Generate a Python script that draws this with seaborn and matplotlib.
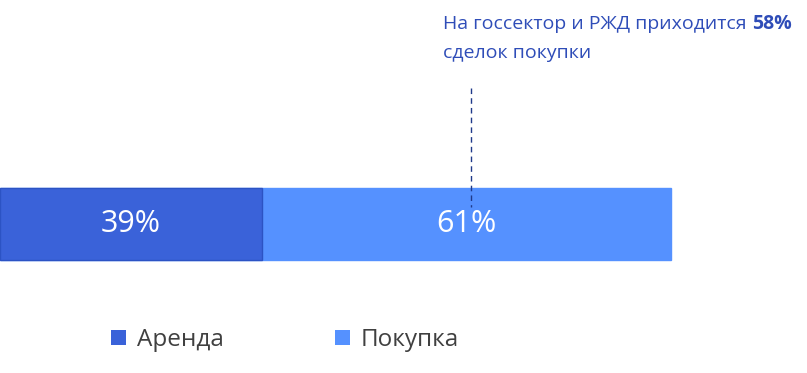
import matplotlib
matplotlib.use("Agg")
import matplotlib.pyplot as plt
import seaborn as sns
import pandas as pd
from matplotlib.patches import Patch

sns.set_theme(style="white")
plt.rcParams['font.family'] = ['Open Sans', 'DejaVu Sans']

categories = ["Аренда", "Покупка"]
shares = [39, 61]
labels = ["39%", "61%"]
note_main = "На госсектор и РЖД приходится"
note_bold = "58%"
note_line2 = "сделок покупки"

colors = ["#3A62D9", "#5591FF"]
edge = ["#2C53C4", "#5591FF"]

W, H = 807, 373
fig = plt.figure(figsize=(W / 100, H / 100), dpi=100)
ax = fig.add_axes([0, 0, 1, 1])

cum = [sum(shares[:i + 1]) for i in range(len(shares))]
row = "all"
for i in reversed(range(len(shares))):
    df = pd.DataFrame({"row": [row], "value": [cum[i]]})
    sns.barplot(data=df, x="value", y="row", orient="h", color=colors[i],
                saturation=1, width=0.8, edgecolor=edge[i], linewidth=1, ax=ax)

ax.set_xlim(0, 100 * W / 671)
unit = 72 / 0.8
ax.set_ylim((H - 224) / unit, -224 / unit)
ax.axis("off")

for i, (s, lab) in enumerate(zip(shares, labels)):
    start = cum[i] - s
    ax.text(start + s / 2, 0, lab, ha="center", va="center",
            color="white", fontsize=22)

xl = 70.2
ax.plot([xl, xl], [(88 - 224) / unit, (207 - 224) / unit], color="#1F3A8A",
        lw=1, ls=(0, (4, 3)))

tcol = "#2F4DB8"
fs = 14.0
t1 = fig.text(443 / W, 1 - 29 / H, note_main, color=tcol, fontsize=fs,
              ha="left", va="baseline")
fig.canvas.draw()
bb = t1.get_window_extent(renderer=fig.canvas.get_renderer())
fig.text((bb.x1 + 5.5) / W, 1 - 29 / H, note_bold, color=tcol, fontsize=fs,
         fontweight="bold", ha="left", va="baseline")
fig.text(443 / W, 1 - 58 / H, note_line2, color=tcol, fontsize=fs,
         ha="left", va="baseline")

handles = [Patch(facecolor=colors[i], edgecolor="none", label=categories[i])
           for i in range(len(categories))]
fig.legend(handles=handles, loc="center", bbox_to_anchor=(285 / W, 1 - 340 / H),
           ncol=2, frameon=False, fontsize=17.5, labelcolor="#404040",
           handlelength=0.6, handleheight=0.6, handletextpad=0.45,
           columnspacing=4.6)

fig.savefig("out.png", dpi=100)
